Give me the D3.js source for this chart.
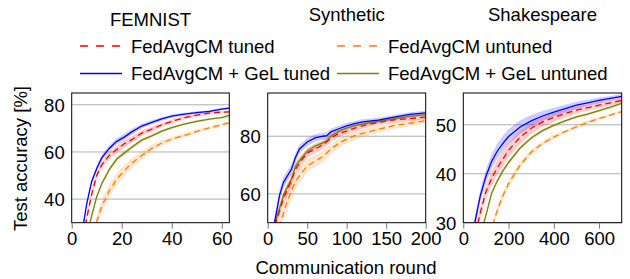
<!DOCTYPE html>
<html><head><meta charset="utf-8">
<script src="https://cdn.jsdelivr.net/npm/d3@7"></script>
<style>
html,body{margin:0;padding:0;background:#fff;}
svg text{font-family:"Liberation Sans",Arial,Helvetica,sans-serif;fill:#000;}
</style></head>
<body><svg id="chart" width="630" height="279"></svg>
<script>
// ---------- data ----------
const panelTitles = ["FEMNIST", "Synthetic", "Shakespeare"];
const seriesNames = ["FedAvgCM tuned", "FedAvgCM untuned", "FedAvgCM + GeL tuned", "FedAvgCM + GeL untuned"];
const yLabel = "Test accuracy [%]";
const xLabel = "Communication round";

// FEMNIST
const femRounds = [2, 4, 6, 8, 10, 12, 15, 18, 21, 24, 28, 32, 36, 40, 45, 50, 55, 60, 63];
const femTuned      = [8, 20, 32, 42, 50, 54.5, 58.5, 61, 63.5, 65.2, 68, 69.7, 71.5, 73, 74.5, 75.6, 76.5, 76.9, 77];
const femUntuned    = [2, 5, 13, 21, 30.5, 37, 43.5, 48.5, 52, 55.2, 58.5, 61.5, 63.8, 65.5, 67, 68.7, 70.2, 71.5, 72.4];
const femGelTuned   = [10, 25, 38, 47.5, 53, 57.5, 61.5, 64.5, 66.3, 68.5, 71, 72.5, 74, 75.2, 76, 76.7, 77.2, 78.2, 78.6];
const femGelUntuned = [5, 12, 24, 33, 41, 46.5, 52.5, 57, 59.5, 62, 65, 66.8, 68.8, 70.3, 71.8, 73, 73.9, 74.6, 75.5];
const femTunedSd      = [1.5, 1.5, 1.5, 1.5, 1.5, 1.5, 1.6, 1.6, 1.5, 1.4, 1.2, 1, 0.9, 0.8, 0.7, 0.6, 0.6, 0.5, 0.5];
const femUntunedSd    = [2.5, 2.5, 2.5, 2.5, 2.5, 2.6, 2.6, 2.5, 2.3, 2, 1.7, 1.4, 1.2, 1, 0.9, 0.8, 0.7, 0.6, 0.6];
const femGelTunedSd   = [1.2, 1.2, 1.2, 1.2, 1.2, 1.2, 1.3, 1.3, 1.3, 1.2, 1, 0.9, 0.8, 0.7, 0.6, 0.6, 0.5, 0.5, 0.5];
const femGelUntunedSd = [1, 1, 1, 1, 1, 1, 1.1, 1.1, 1, 1, 0.9, 0.8, 0.7, 0.6, 0.5, 0.5, 0.5, 0.4, 0.4];

// Synthetic
const synRounds = [0, 5, 10, 15, 20, 25, 30, 35, 40, 50, 60, 70, 75, 80, 90, 100, 110, 120, 140, 160, 180, 200];
const synTuned      = [32, 41, 50, 54, 58.5, 61.5, 64.5, 68.5, 70.5, 74.2, 75.6, 77, 78.2, 79.3, 81, 81.8, 82.8, 83.6, 84.8, 85.7, 86.1, 86.7];
const synUntuned    = [28, 36, 43, 48.5, 53.5, 57.5, 61, 64.3, 66.2, 69.7, 71.3, 73, 74.3, 75.5, 77.6, 79, 80.2, 81, 82.4, 83.7, 84.5, 85.4];
const synGelTuned   = [35, 45, 52, 59.5, 64, 66.3, 68.5, 72.5, 75.5, 78, 79.4, 80, 80.2, 81.5, 82.6, 83.6, 84.4, 85, 85.6, 86.6, 87.6, 88.1];
const synGelUntuned = [33, 42, 50.5, 55, 59.5, 62.5, 65, 69.5, 71.5, 74.7, 76.6, 77.7, 78.4, 80, 81.7, 82.8, 83.7, 84.2, 85.2, 86, 86.9, 87.5];
const synTunedSd      = [2, 2, 2, 2, 2, 2, 2, 1.8, 1.8, 1.6, 1.5, 1.4, 1.4, 1.3, 1.2, 1.1, 1, 1, 0.9, 0.9, 0.8, 0.8];
const synUntunedSd    = [3, 3, 3, 3, 3, 3, 2.8, 2.6, 2.5, 2.3, 2.1, 2, 1.9, 1.8, 1.6, 1.5, 1.4, 1.3, 1.2, 1.1, 1, 1];
const synGelTunedSd   = [2, 2, 2, 2, 2, 1.8, 1.8, 1.6, 1.5, 1.4, 1.3, 1.2, 1.2, 1.1, 1, 1, 0.9, 0.9, 0.8, 0.8, 0.7, 0.7];
const synGelUntunedSd = [1.5, 1.5, 1.5, 1.5, 1.5, 1.4, 1.3, 1.2, 1.1, 1, 1, 0.9, 0.9, 0.8, 0.8, 0.7, 0.7, 0.6, 0.6, 0.6, 0.5, 0.5];

// Shakespeare
const shaRounds = [0, 25, 50, 75, 100, 125, 150, 175, 200, 250, 300, 350, 400, 450, 500, 550, 600, 650, 700];
const shaTuned      = [18, 22.5, 27, 32, 36.3, 39, 41.2, 43, 44.8, 47.4, 49.3, 50.6, 51.5, 52.3, 53, 53.5, 54, 54.5, 55];
const shaUntuned    = [10, 13.5, 17, 20.5, 24, 28.8, 32.5, 35.5, 38, 41.7, 44.4, 46.2, 47.5, 48.6, 49.6, 50.5, 51.3, 52, 52.7];
const shaGelTuned   = [20, 25, 29.8, 35.5, 39.5, 42.5, 44.6, 46.2, 47.6, 49.5, 50.8, 51.8, 52.6, 53.3, 54, 54.5, 55, 55.4, 55.8];
const shaGelUntuned = [15, 19, 23.5, 27.5, 31.5, 36, 38.5, 40.6, 42.3, 45.2, 47.3, 48.8, 49.9, 50.8, 51.6, 52.2, 52.9, 53.6, 54.4];
const shaTunedSd      = [1.2, 1.2, 1.2, 1.3, 1.4, 1.5, 1.5, 1.5, 1.5, 1.4, 1.2, 1, 0.9, 0.8, 0.7, 0.6, 0.6, 0.5, 0.5];
const shaUntunedSd    = [0.8, 0.8, 0.8, 0.8, 0.8, 0.8, 0.8, 0.8, 0.8, 0.7, 0.6, 0.5, 0.5, 0.4, 0.4, 0.4, 0.3, 0.3, 0.3];
const shaGelTunedSd   = [1.2, 1.2, 1.2, 1.3, 1.4, 1.5, 1.6, 1.6, 1.5, 1.4, 1.2, 1, 0.9, 0.8, 0.7, 0.6, 0.6, 0.5, 0.5];
const shaGelUntunedSd = [0.5, 0.5, 0.5, 0.5, 0.5, 0.5, 0.5, 0.5, 0.5, 0.4, 0.4, 0.4, 0.3, 0.3, 0.3, 0.3, 0.3, 0.3, 0.3];

const xDomains = [[0, 63], [0, 200], [0, 700]];
const yDomains = [[30, 85], [50, 95], [30, 56.5]];
const xTickVals = [[0, 20, 40, 60], [0, 50, 100, 150, 200], [0, 200, 400, 600]];
const yTickVals = [[40, 60, 80], [60, 80], [30, 40, 50]];

// ---------- styles ----------
const colors = ["#ff0000", "#ff8000", "#0000ff", "#808000"];
const dashes = ["6,4", "6,4", null, null];
const bandOpacity = [0.2, 0.2, 0.2, 0.2];
const drawOrder = [1, 3, 0, 2];

const panels = [
  {rounds: femRounds, vals: [femTuned, femUntuned, femGelTuned, femGelUntuned], sds: [femTunedSd, femUntunedSd, femGelTunedSd, femGelUntunedSd]},
  {rounds: synRounds, vals: [synTuned, synUntuned, synGelTuned, synGelUntuned], sds: [synTunedSd, synUntunedSd, synGelTunedSd, synGelUntunedSd]},
  {rounds: shaRounds, vals: [shaTuned, shaUntuned, shaGelTuned, shaGelUntuned], sds: [shaTunedSd, shaUntunedSd, shaGelTunedSd, shaGelUntunedSd]}
];
const boxes = [
  {x0: 71.7, x1: 229.3},
  {x0: 267.7, x1: 425.7},
  {x0: 463.3, x1: 621.7}
];
const yTop = 93, yBot = 222.7;
const FS = 18.5;

const svg = d3.select("#chart");
const defs = svg.append("defs");

panels.forEach((p, i) => {
  const b = boxes[i];
  const x = d3.scaleLinear().domain(xDomains[i]).range([b.x0, b.x1]);
  const y = d3.scaleLinear().domain(yDomains[i]).range([yBot, yTop]);
  const g = svg.append("g");

  defs.append("clipPath").attr("id", "clip" + i)
    .append("rect").attr("x", b.x0).attr("y", yTop).attr("width", b.x1 - b.x0).attr("height", yBot - yTop);

  // grid
  g.append("g").selectAll("line").data(yTickVals[i]).join("line")
    .attr("x1", b.x0).attr("x2", b.x1)
    .attr("y1", d => y(d)).attr("y2", d => y(d))
    .attr("stroke", "#b0b0b0").attr("stroke-width", 1);

  const plot = g.append("g").attr("clip-path", `url(#clip${i})`);
  drawOrder.forEach(s => {
    const data = p.rounds.map((r, k) => ({r, v: p.vals[s][k], sd: p.sds[s][k]}));
    plot.append("path").datum(data)
      .attr("d", d3.area().x(d => x(d.r)).y0(d => y(d.v - d.sd)).y1(d => y(d.v + d.sd)))
      .attr("fill", colors[s]).attr("fill-opacity", bandOpacity[s]).attr("stroke", "none");
  });
  drawOrder.forEach(s => {
    const data = p.rounds.map((r, k) => ({r, v: p.vals[s][k]}));
    plot.append("path").datum(data)
      .attr("d", d3.line().x(d => x(d.r)).y(d => y(d.v)))
      .attr("fill", "none").attr("stroke", colors[s]).attr("stroke-width", 1.3)
      .attr("stroke-dasharray", dashes[s]);
  });

  // frame
  g.append("rect").attr("x", b.x0).attr("y", yTop).attr("width", b.x1 - b.x0).attr("height", yBot - yTop)
    .attr("fill", "none").attr("stroke", "#000").attr("stroke-width", 1);

  // x axis
  const xa = g.append("g").attr("transform", `translate(0,${yBot})`)
    .call(d3.axisBottom(x).tickValues(xTickVals[i]).tickSize(6).tickPadding(3).tickSizeOuter(0));
  xa.select(".domain").remove();
  xa.selectAll(".tick line").attr("stroke", "#777");
  xa.selectAll("text").attr("font-size", FS).style("font-family", "Liberation Sans, Arial, sans-serif");

  // y axis
  const ya = g.append("g").attr("transform", `translate(${b.x0},0)`)
    .call(d3.axisLeft(y).tickValues(yTickVals[i]).tickSize(0).tickPadding(7));
  ya.select(".domain").remove();
  ya.selectAll("text").attr("font-size", FS).attr("dy", "0.35em").style("font-family", "Liberation Sans, Arial, sans-serif");

  // title
  g.append("text").attr("x", (b.x0 + b.x1) / 2).attr("y", i === 0 ? 26 : 21)
    .attr("text-anchor", "middle").attr("font-size", FS).text(panelTitles[i]);
});

// legend
const legendItems = [
  {s: 0, lx: 80, ty: 53, ly: 46},
  {s: 1, lx: 337, ty: 53, ly: 46},
  {s: 2, lx: 80, ty: 80, ly: 73.5},
  {s: 3, lx: 337, ty: 80, ly: 73.5}
];
const lg = svg.append("g");
legendItems.forEach(it => {
  lg.append("line").attr("x1", it.lx).attr("x2", it.lx + 42).attr("y1", it.ly).attr("y2", it.ly)
    .attr("stroke", colors[it.s]).attr("stroke-width", 1.3)
    .attr("stroke-dasharray", dashes[it.s] ? "8,8" : null);
  lg.append("text").attr("x", it.lx + 51).attr("y", it.ty).attr("font-size", FS).text(seriesNames[it.s]);
});

// axis labels
svg.append("text").attr("transform", "translate(27,158.5) rotate(-90)")
  .attr("text-anchor", "middle").attr("font-size", FS).text(yLabel);
svg.append("text").attr("x", 346).attr("y", 274)
  .attr("text-anchor", "middle").attr("font-size", FS).text(xLabel);
</script></body></html>
